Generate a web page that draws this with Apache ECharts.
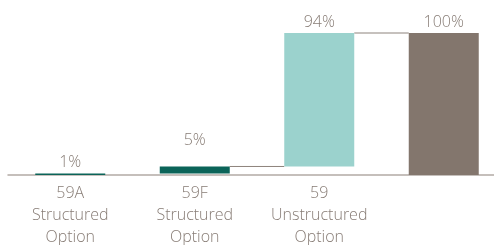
<!DOCTYPE html>
<html>
<head>
<meta charset="utf-8">
<script src="https://cdn.jsdelivr.net/npm/echarts@6/dist/echarts.min.js"></script>
<style>
  html, body { margin: 0; padding: 0; background: #fff; }
  #chart { width: 494px; height: 245px; }
</style>
</head>
<body>
<div id="chart"></div>
<script>
var categories = ['59A\nStructured\nOption', '59F\nStructured\nOption', '59\nUnstructured\nOption', ''];
var baseValues = [0, 1, 6, 0];
var barValues = [1, 5, 94, 100];
var barColors = ['#0b6459', '#0b6459', '#9bd2cd', '#83766d'];
var labelOffsets = [0, 15, 0, 0];

var textColor = '#877c75';
var font = '"Open Sans"';

var chart = echarts.init(document.getElementById('chart'));

// connector levels: top of each bar leading to the next one (the 1% one sits on the axis)
var connectors = [];
for (var i = 1; i < barValues.length - 1; i++) {
    connectors.push([i, baseValues[i] + barValues[i]]);
}

var option = {
    animation: false,
    grid: {
        left: 8,
        width: 498,
        top: 33,
        bottom: 70,
        outerBoundsMode: 'none'
    },
    xAxis: {
        type: 'category',
        data: categories,
        axisLine: { lineStyle: { color: '#b3aba5', width: 1.5 } },
        axisTick: { show: false },
        axisLabel: {
            interval: 0,
            hideOverlap: false,
            color: textColor,
            fontFamily: font,
            fontWeight: 300,
            fontSize: 16,
            lineHeight: 22,
            margin: 7
        }
    },
    yAxis: {
        type: 'value',
        min: 0,
        max: 100,
        show: false,
        splitLine: { show: false }
    },
    series: [{
        type: 'bar',
        stack: 'w',
        barWidth: 70,
        silent: true,
        itemStyle: { color: 'transparent' },
        data: baseValues
    }, {
        type: 'bar',
        stack: 'w',
        barWidth: 70,
        data: barValues.map(function(v, i) {
            return {
                value: v,
                itemStyle: { color: barColors[i] },
                label: { distance: 3 + labelOffsets[i] }
            };
        }),
        label: {
            show: true,
            position: 'top',
            color: textColor,
            fontFamily: font,
            fontWeight: 300,
            fontSize: 16,
            formatter: function(p) { return p.value + '%'; }
        }
    }, {
        type: 'custom',
        z: 1,
        data: connectors,
        renderItem: function(params, api) {
            var p = api.coord([api.value(0), api.value(1)]);
            var step = api.size([1, 0])[0];
            var half = 35;
            return {
                type: 'line',
                shape: { x1: p[0] + half, y1: p[1], x2: p[0] + step - half, y2: p[1] },
                style: { stroke: '#8d837c', lineWidth: 1 }
            };
        }
    }]
};
chart.setOption(option);
</script>
</body>
</html>
